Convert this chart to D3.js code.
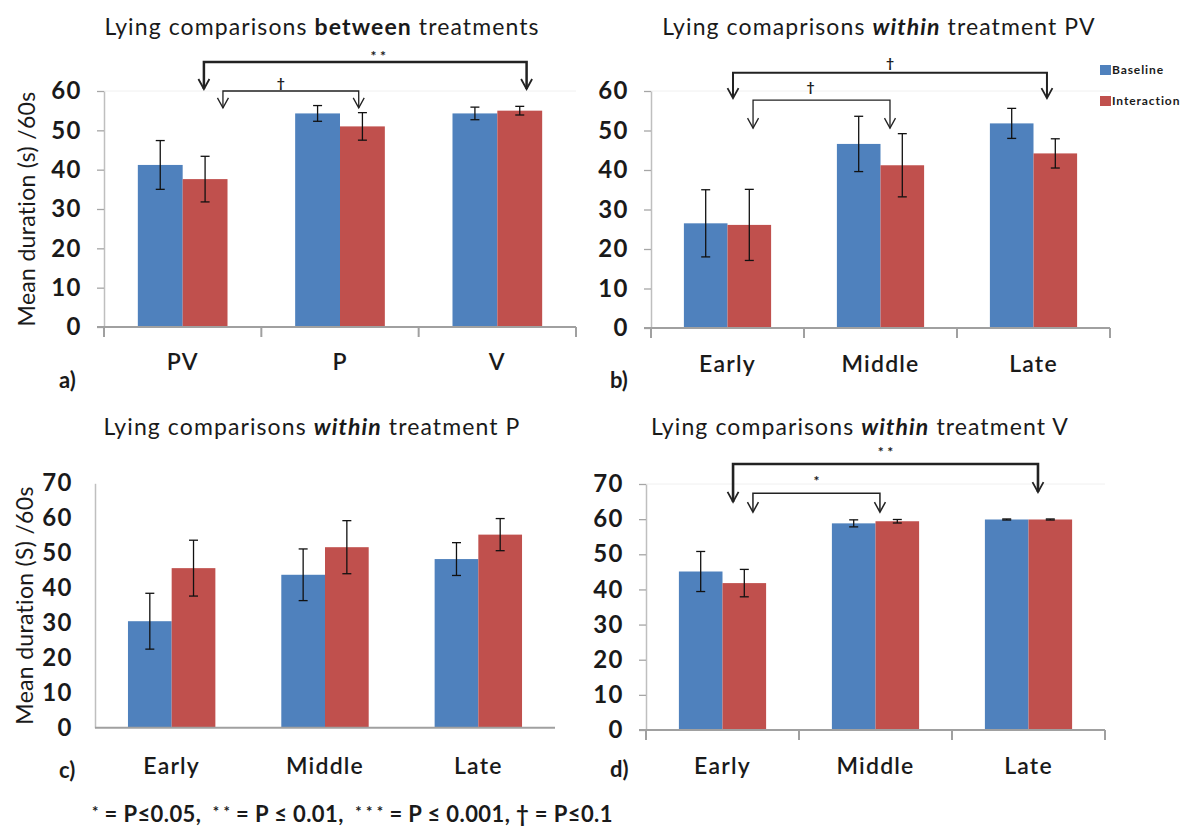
<!DOCTYPE html>
<html>
<head>
<meta charset="utf-8">
<script src="https://cdn.jsdelivr.net/npm/d3@7"></script>
<style>
  body { margin: 0; background: #fff; }
  svg { display: block; }
  text { font-family: Lato, "Open Sans", sans-serif; fill: #1a1a1a; }
</style>
</head>
<body>
<svg id="chart" width="1200" height="829"></svg>
<script>
// --- data ---
const treatments = ["PV", "P", "V"];
const periods = ["Early", "Middle", "Late"];
const seriesNames = ["Baseline", "Interaction"];
const seriesColors = ["#4f81bd", "#c0504d"];

const ticks60 = [0, 10, 20, 30, 40, 50, 60];
const ticks70 = [0, 10, 20, 30, 40, 50, 60, 70];

// a) between treatments
const aBaseline = [41.2, 54.3, 54.3];
const aBaselineErr = [6.2, 2.0, 1.6];
const aInteraction = [37.6, 51.0, 55.0];
const aInteractionErr = [5.8, 3.5, 1.1];

// b) within PV
const bBaseline = [26.5, 46.6, 51.8];
const bBaselineErr = [8.5, 7.0, 3.8];
const bInteraction = [26.1, 41.2, 44.2];
const bInteractionErr = [9.0, 8.0, 3.7];

// c) within P
const cBaseline = [30.5, 43.8, 48.3];
const cBaselineErr = [8.0, 7.4, 4.7];
const cInteraction = [45.7, 51.7, 55.3];
const cInteractionErr = [8.0, 7.6, 4.6];

// d) within V
const dBaseline = [45.1, 58.8, 59.9];
const dBaselineErr = [5.7, 1.0, 0.15];
const dInteraction = [41.8, 59.4, 59.9];
const dInteractionErr = [3.9, 0.5, 0.15];

const svg = d3.select("#chart");

function drawPanel(p) {
  const g = svg.append("g");
  const slot = d3.scaleBand().domain(p.cats).range(p.xr);
  const grp = d3.scaleBand().domain(p.cats).range(p.xr).paddingInner(0.43).paddingOuter(0.215);
  const ser = d3.scaleBand().domain(seriesNames).range([0, grp.bandwidth()]);
  const y = d3.scaleLinear().domain([0, p.max]).range(p.yr);

  // faint line at the top value
  if (p.topLine) {
    g.append("line")
      .attr("x1", p.xr[0]).attr("x2", p.xr[1])
      .attr("y1", y(p.max)).attr("y2", y(p.max))
      .attr("stroke", "#f0f0f0").attr("stroke-width", 1);
  }

  // bars + error bars
  p.series.forEach((s, si) => {
    const rows = p.cats.map((c, i) => ({ c: c, v: s.values[i], e: s.err[i] }));
    const name = seriesNames[si];
    g.selectAll(null).data(rows).join("rect")
      .attr("x", d => grp(d.c) + ser(name))
      .attr("width", ser.bandwidth())
      .attr("y", d => y(d.v))
      .attr("height", d => y(0) - y(d.v))
      .attr("fill", seriesColors[si]);

    const eb = g.selectAll(null).data(rows).join("g")
      .attr("transform", d => `translate(${grp(d.c) + ser(name) + ser.bandwidth() / 2},0)`);
    eb.append("line")
      .attr("y1", d => y(d.v - d.e)).attr("y2", d => y(d.v + d.e))
      .attr("stroke", "#111").attr("stroke-width", 1.3);
    eb.append("line").attr("x1", -4.5).attr("x2", 4.5)
      .attr("y1", d => y(d.v + d.e)).attr("y2", d => y(d.v + d.e))
      .attr("stroke", "#111").attr("stroke-width", 1.3);
    eb.append("line").attr("x1", -4.5).attr("x2", 4.5)
      .attr("y1", d => y(d.v - d.e)).attr("y2", d => y(d.v - d.e))
      .attr("stroke", "#111").attr("stroke-width", 1.3);
  });

  // y axis
  const yAxis = g.append("g")
    .attr("transform", `translate(${p.xr[0]},0)`)
    .call(d3.axisLeft(y).tickValues(p.ticks).tickSize(p.tickMarks ? 7 : 0)
      .tickSizeOuter(0).tickPadding(p.tickMarks ? 15 : 22));
  yAxis.attr("font-family", null).attr("font-size", null);
  yAxis.select(".domain").attr("stroke", "#bfbfbf").attr("stroke-width", 1.5);
  yAxis.selectAll(".tick line").attr("stroke", "#a6a6a6").attr("stroke-width", 1.3);
  yAxis.selectAll(".tick text").style("font-size", "24px").style("font-weight", 700)
    .style("letter-spacing", "1.5px").attr("fill", "#1a1a1a");

  // x axis
  const xAxis = g.append("g")
    .attr("transform", `translate(0,${y(0)})`)
    .call(d3.axisBottom(slot).tickSize(0).tickPadding(p.labelPad));
  xAxis.attr("font-family", null).attr("font-size", null);
  xAxis.select(".domain").remove();
  xAxis.selectAll(".tick text").style("font-size", "23px").style("font-weight", 600)
    .style("letter-spacing", "1.2px").attr("fill", "#1a1a1a");
  xAxis.append("line").attr("x1", p.xr[0] - (p.tickMarks ? 7 : 0)).attr("x2", p.xr[1])
    .attr("stroke", "#a0a0a0").attr("stroke-width", 2);
  if (p.tickMarks) {
    const bounds = p.cats.map(c => slot(c)).concat([p.xr[1]]);
    xAxis.selectAll(null).data(bounds).join("line")
      .attr("x1", d => d).attr("x2", d => d).attr("y1", 0).attr("y2", 10)
      .attr("stroke", "#a0a0a0").attr("stroke-width", 2);
  }

  // title
  const t = g.append("text").attr("x", p.titleX).attr("y", p.titleY)
    .attr("text-anchor", "middle").style("font-size", "23px").style("letter-spacing", "1.1px");
  p.title.forEach(part => {
    t.append("tspan").text(part[0])
      .style("font-weight", part[1] ? 700 : 400)
      .style("font-style", part[2] ? "italic" : "normal");
  });

  // panel letter
  g.append("text").attr("x", p.letterX).attr("y", p.letterY)
    .style("font-size", "22px").style("font-weight", 700).text(p.letter);

  // y title
  if (p.yTitle) {
    g.append("text")
      .attr("transform", `translate(${p.yTitleX},${(p.yr[0] + p.yr[1]) / 2}) rotate(-90)`)
      .attr("text-anchor", "middle").style("font-size", "23px").style("letter-spacing", "0.3px")
      .text(p.yTitle);
  }

  // significance brackets
  (p.brackets || []).forEach(b => {
    const x1 = slot(b.from) + b.fromPos * slot.bandwidth();
    const x2 = slot(b.to) + b.toPos * slot.bandwidth();
    const yl = y(b.level);
    const t1 = y(b.tip1), t2 = y(b.tip2);
    g.append("path")
      .attr("d", `M${x1},${t1}V${yl}H${x2}V${t2}`)
      .attr("fill", "none").attr("stroke", "#222").attr("stroke-width", b.w);
    [[x1, t1], [x2, t2]].forEach(pt => {
      g.append("path")
        .attr("d", `M${pt[0] - 5.5},${pt[1] - 10}L${pt[0]},${pt[1]}L${pt[0] + 5.5},${pt[1] - 10}`)
        .attr("fill", "none").attr("stroke", "#222").attr("stroke-width", Math.min(b.w, 1.8));
    });
    g.append("text")
      .attr("x", (x1 + x2) / 2 + (b.dx || 0)).attr("y", y(b.labelAt))
      .attr("text-anchor", "middle").attr("dy", "0.35em")
      .style("font-size", "14px").style("font-weight", 700).attr("fill", "#333")
      .text(b.label);
  });
}

drawPanel({
  cats: treatments, xr: [104, 576], yr: [327, 91], max: 60, ticks: ticks60, tickMarks: true, topLine: true,
  series: [{ values: aBaseline, err: aBaselineErr }, { values: aInteraction, err: aInteractionErr }],
  title: [["Lying comparisons  "], ["between", true], [" treatments"]], titleX: 322, titleY: 35,
  letter: "a)", letterX: 59, letterY: 388, labelPad: 27,
  yTitle: "Mean duration (s) /60s", yTitleX: 35,
  brackets: [
    { from: "PV", fromPos: 0.635, to: "V", toPos: 0.686, level: 67.4, tip1: 60.5, tip2: 60.5, label: "* *", labelAt: 68.8, dx: 13, w: 2.5 },
    { from: "PV", fromPos: 0.756, to: "P", toPos: 0.619, level: 60, tip1: 55.7, tip2: 55.7, label: "†", labelAt: 62, dx: -10, w: 1.3 }
  ]
});

drawPanel({
  cats: periods, xr: [651, 1110], yr: [328, 91], max: 60, ticks: ticks60, tickMarks: true, topLine: true,
  series: [{ values: bBaseline, err: bBaselineErr }, { values: bInteraction, err: bInteractionErr }],
  title: [["Lying comaprisons  "], ["within", true, true], [" treatment  PV"]], titleX: 879, titleY: 35,
  letter: "b)", letterX: 610, letterY: 388, labelPad: 28,
  brackets: [
    { from: "Early", fromPos: 0.536, to: "Late", toPos: 0.588, level: 64.6, tip1: 58.2, tip2: 58.2, label: "†", labelAt: 67.1, w: 2 },
    { from: "Early", fromPos: 0.667, to: "Middle", toPos: 0.562, level: 57.7, tip1: 50.6, tip2: 50.6, label: "†", labelAt: 61, dx: -11, w: 1.3 }
  ]
});

drawPanel({
  cats: periods, xr: [95, 555], yr: [727.7, 483.3], max: 70, ticks: ticks70, tickMarks: false, topLine: false,
  series: [{ values: cBaseline, err: cBaselineErr }, { values: cInteraction, err: cInteractionErr }],
  title: [["Lying comparisons  "], ["within", true, true], [" treatment  P"]], titleX: 312, titleY: 435,
  letter: "c)", letterX: 59, letterY: 778, labelPad: 30,
  yTitle: "Mean duration (S) /60s", yTitleX: 33
});

drawPanel({
  cats: periods, xr: [646, 1105], yr: [730, 484], max: 70, ticks: ticks70, tickMarks: true, topLine: true,
  series: [{ values: dBaseline, err: dBaselineErr }, { values: dInteraction, err: dInteractionErr }],
  title: [["Lying comparisons  "], ["within", true, true], [" treatment  V"]], titleX: 860, titleY: 435,
  letter: "d)", letterX: 610, letterY: 777, labelPad: 28,
  brackets: [
    { from: "Early", fromPos: 0.569, to: "Late", toPos: 0.562, level: 75.7, tip1: 64.9, tip2: 67.7, label: "* *", labelAt: 79.1, w: 2.6 },
    { from: "Early", fromPos: 0.699, to: "Middle", toPos: 0.529, level: 67.4, tip1: 62.0, tip2: 62.0, label: "*", labelAt: 70.9, w: 1.5 }
  ]
});

// legend (panel b)
const legend = svg.append("g").selectAll(null).data(seriesNames).join("g")
  .attr("transform", (d, i) => `translate(1100,${70 + i * 31})`);
legend.append("rect").attr("x", 0).attr("y", -5).attr("width", 11).attr("height", 10)
  .attr("fill", (d, i) => seriesColors[i]);
legend.append("text").attr("x", 12).attr("dy", "0.35em")
  .style("font-size", "12px").style("font-weight", 700).style("letter-spacing", "0.9px")
  .text(d => d);

// footnote
const foot = svg.append("text").attr("x", 92).attr("y", 822)
  .attr("xml:space", "preserve").style("font-size", "22px").style("font-weight", 700)
  .style("letter-spacing", "0.4px");
[["*", true], [" = P≤0.05,  "], ["* *", true], [" = P ≤ 0.01,  "], ["* * *", true], [" = P ≤ 0.001, † = P≤0.1"]]
  .forEach(part => {
    foot.append("tspan").text(part[0])
      .style("font-size", part[1] ? "15px" : null)
      .attr("dy", part[1] ? -5 : 5);
  });
</script>
</body>
</html>
